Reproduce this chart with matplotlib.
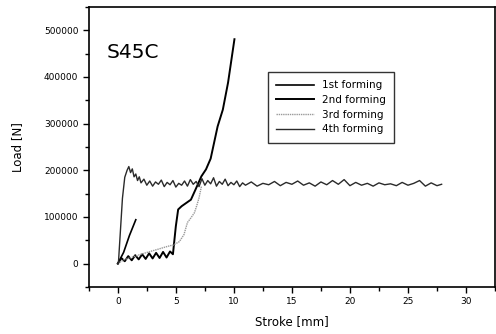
"""Load-stroke curves for S45C forming"""
import matplotlib
matplotlib.use("Agg")
import matplotlib.pyplot as plt
from matplotlib.ticker import MultipleLocator

LABELS = ["1st forming", "2nd forming", "3rd forming", "4th forming"]

# short first run
stroke_1 = [0.0, 0.5, 1.0, 1.55]
load_1 = [0, 24000, 60000, 94000]

# run with the early peak and long flat plateau
stroke_2 = [0.05, 0.2, 0.4, 0.6, 0.8, 0.95, 1.1, 1.25, 1.4, 1.55, 1.7, 1.85, 2.0,
            2.25, 2.5, 2.75, 3.0, 3.25, 3.5, 3.75, 4.0, 4.25, 4.5, 4.75, 5.0,
            5.25, 5.5, 5.75, 6.0, 6.25, 6.5, 6.75, 7.0, 7.25, 7.5, 7.75, 8.0,
            8.25, 8.5, 8.75, 9.0, 9.25, 9.5, 9.75, 10.0, 10.25, 10.5, 10.75, 11.0,
            11.5, 12.0, 12.5, 13.0, 13.5, 14.0, 14.5, 15.0, 15.5, 16.0, 16.5,
            17.0, 17.5, 18.0, 18.5, 19.0, 19.5, 20.0, 20.5, 21.0, 21.5, 22.0,
            22.5, 23.0, 23.5, 24.0, 24.5, 25.0, 25.5, 26.0, 26.5, 27.0, 27.5, 27.9]
load_2 = [0, 60000, 140000, 185000, 200000, 208000, 195000, 203000, 186000, 192000,
          178000, 186000, 173000, 181000, 168000, 177000, 166000, 175000, 170000,
          179000, 165000, 174000, 169000, 178000, 164000, 172000, 168000, 177000,
          166000, 180000, 170000, 176000, 165000, 182000, 168000, 178000, 171000,
          184000, 166000, 176000, 170000, 181000, 167000, 174000, 169000, 177000,
          165000, 173000, 168000, 175000, 166000, 172000, 169000, 176000, 167000,
          174000, 170000, 177000, 168000, 173000, 166000, 175000, 169000, 178000,
          170000, 180000, 167000, 174000, 168000, 172000, 166000, 173000, 169000,
          171000, 167000, 174000, 168000, 172000, 178000, 166000, 173000, 167000, 170000]

# run with low zig-zag then steep rise to 480 kN
stroke_3 = [0.0, 0.3, 0.6, 0.9, 1.2, 1.5, 1.8, 2.1, 2.4, 2.7, 3.0, 3.3, 3.6, 3.9,
            4.2, 4.5, 4.75, 5.0, 5.2, 5.5, 5.9, 6.3, 6.7, 7.2, 7.6, 8.0, 8.6,
            9.05, 9.5, 10.05]
load_3 = [0, 12000, 5000, 16000, 7000, 18000, 9000, 20000, 10000, 22000, 11000,
          23000, 12000, 25000, 13000, 26000, 20000, 80000, 116000, 123000, 130000,
          137000, 159000, 187000, 202000, 225000, 294000, 330000, 388000, 481000]

# gray dotted run
stroke_4 = [0.0, 0.5, 1.0, 1.4, 2.0, 2.8, 3.5, 4.3, 4.8, 5.3, 5.7, 6.0, 6.3, 6.6,
            6.8, 7.0, 7.2]
load_4 = [0, 8000, 12000, 15000, 20000, 26000, 31000, 37000, 40000, 47000, 62000,
          88000, 98000, 109000, 124000, 141000, 165000]

fig = plt.figure(figsize=(4.96, 3.34), dpi=100)
ax = fig.add_axes([0.179, 0.141, 0.819, 0.838])

ax.plot(stroke_1, load_1, color="black", lw=1.2, label=LABELS[0])
ax.plot(stroke_3, load_3, color="black", lw=1.4, label=LABELS[1])
ax.plot(stroke_4, load_4, color="#9a9a9a", lw=1.0, ls=(0, (1, 0.6)), label=LABELS[2])
ax.plot(stroke_2, load_2, color="#2a2a2a", lw=1.0, label=LABELS[3])

ax.set_xlim(-2.5, 32.5)
ax.set_ylim(-50000, 550000)
ax.xaxis.set_major_locator(MultipleLocator(5))
ax.xaxis.set_minor_locator(MultipleLocator(2.5))
ax.yaxis.set_major_locator(MultipleLocator(100000))
ax.yaxis.set_minor_locator(MultipleLocator(50000))
ax.tick_params(which="both", direction="out", width=1, labelsize=6.5)
ax.tick_params(which="major", length=4)
ax.tick_params(which="minor", length=3)
for s in ax.spines.values():
    s.set_linewidth(1.2)

ax.set_xlabel("Stroke [mm]", fontsize=8.5, labelpad=6)
ax.set_ylabel("Load [N]", fontsize=8.5, labelpad=14)
ax.text(0.045, 0.818, "S45C", transform=ax.transAxes, fontsize=14.5)

leg = ax.legend(loc="upper left", bbox_to_anchor=(0.53, 0.80),
                bbox_transform=fig.transFigure, fontsize=7.5, frameon=True,
                fancybox=False, handlelength=3.6, borderpad=0.8, labelspacing=0.45)
leg.get_frame().set_edgecolor("black")
leg.get_frame().set_linewidth(1.0)

fig.savefig("out.png", dpi=100)
